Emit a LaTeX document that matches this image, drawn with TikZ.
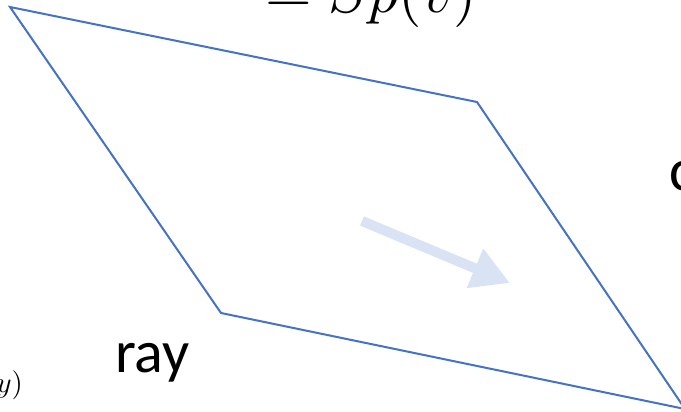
\documentclass[tikz,border=0pt]{standalone}
\usepackage{fontspec}
\newfontfamily\carlfont{Carlito}
\usetikzlibrary{arrows.meta}
\definecolor{edgeblue}{HTML}{4472C4}
\definecolor{paleblue}{HTML}{DAE3F3}
\begin{document}
\begin{tikzpicture}[x=1pt,y=-1pt,
  edge/.style={draw=edgeblue,line width=2pt,line join=miter},
  lbl/.style={inner sep=0pt,outer sep=0pt,anchor=base west},
  dirarrow/.style={draw=paleblue,line width=10pt,-{Triangle[length=38pt,width=40pt]}}]
\useasboundingbox (0,0) rectangle (681,412);
% parallelogram
\coordinate (tl) at (10,7);
\coordinate (tr) at (477,102);
\coordinate (br) at (685,409);
\coordinate (bl) at (221,313);
\draw[edge] (tl) -- (tr) -- (br) -- (bl) -- cycle;
% direction arrow
\coordinate (as) at (362,221);
\coordinate (ae) at (510,283);
\draw[dirarrow] (as) -- (ae);
% labels
\node[lbl,scale=6] (sp) at (265,13) {$= Sp(v)$};
\node[lbl] (ray) at (115,372) {\fontsize{60}{66}\selectfont\carlfont ray};
\node[lbl] (c) at (669,190) {\fontsize{60}{66}\selectfont\carlfont c};
\node[inner sep=0pt,outer sep=0pt,anchor=base east,scale=2.9] (yp) at (23,392) {$y)$};
\end{tikzpicture}
\end{document}
